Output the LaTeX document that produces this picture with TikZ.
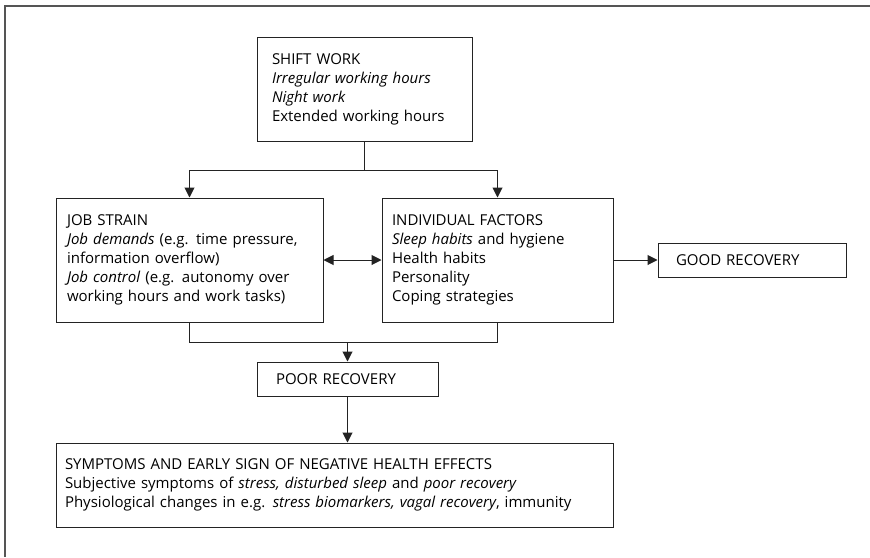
\documentclass[tikz,border=0pt]{standalone}
\usepackage{fontspec}
\setmainfont{Open Sans}
\usetikzlibrary{arrows.meta}
\definecolor{lineblack}{RGB}{35,35,35}
\definecolor{framegrey}{RGB}{85,85,85}

\begin{document}
\begin{tikzpicture}[
  x=1pt, y=-1pt,
  box/.style={rectangle, draw=lineblack, line width=1pt, align=left, inner ysep=0pt, font=\fontsize{15}{19}\selectfont},
  link/.style={line width=1pt, color=lineblack},
  arrow/.style={-{Triangle[length=10pt,width=10pt]}, line width=1pt, color=lineblack}
]
\useasboundingbox (0,0) rectangle (870,557);

% Frame (top and left only)
\draw[framegrey, line width=2pt] (870,6) -- (5,6) -- (5,557);

% Boxes
\node[box, text width=185pt, inner xsep=15pt, minimum height=104pt] (shift) at (364.5,89) {SHIFT WORK\\\textit{Irregular working hours}\\\textit{Night work}\\Extended working hours};
\node[box, text width=245pt, inner xsep=11pt, minimum height=124pt] (job) at (189.5,260) {JOB STRAIN\\\textit{Job demands} (e.g. time pressure,\\information overflow)\\\textit{Job control} (e.g. autonomy over\\working hours and work tasks)};
\node[box, text width=211pt, inner xsep=10pt, minimum height=124pt] (indiv) at (497.5,260) {INDIVIDUAL FACTORS\\\textit{Sleep habits} and hygiene\\Health habits\\Personality\\Coping strategies};
\node[box, text width=152pt, inner xsep=18pt, minimum height=34pt] (good) at (752,260) {GOOD RECOVERY};
\node[box, text width=143pt, inner xsep=19pt, minimum height=34pt] (poor) at (347.5,379) {POOR RECOVERY};
\node[box, text width=539pt, inner xsep=9pt, minimum height=84pt] (symptoms) at (334.5,485) {SYMPTOMS AND EARLY SIGN OF NEGATIVE HEALTH EFFECTS\\Subjective symptoms of \textit{stress, disturbed sleep} and \textit{poor recovery}\\Physiological changes in e.g. \textit{stress biomarkers, vagal recovery}, immunity};

% Split and merge points
\coordinate (split) at (364.5,170);
\coordinate (merge) at (347.5,342);

% Connectors
\draw[link] (shift.south) -- (split);
\draw[arrow] (split) -| (job.north);
\draw[arrow] (split) -| (indiv.north);
\draw[arrow, {Triangle[length=10pt,width=10pt]}-{Triangle[length=10pt,width=10pt]}] (job.east) -- (indiv.west);
\draw[arrow] (indiv.east) -- (good.west);
\draw[link] (job.south) |- (merge);
\draw[link] (indiv.south) |- (merge);
\draw[arrow] (merge) -- (poor.north);
\draw[arrow] (poor.south) -- (poor.south |- symptoms.north);

\end{tikzpicture}
\end{document}
